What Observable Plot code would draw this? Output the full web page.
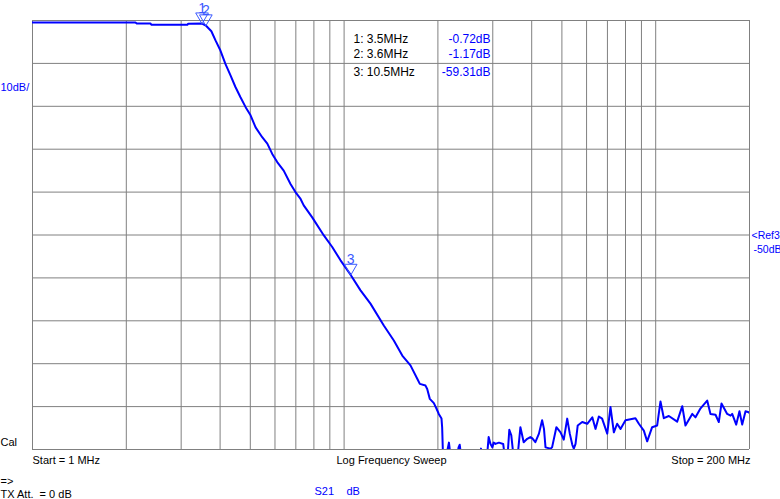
<!DOCTYPE html>
<html><head><meta charset="utf-8">
<script src="https://cdn.jsdelivr.net/npm/d3@7"></script>
<script src="https://cdn.jsdelivr.net/npm/@observablehq/plot@0.6"></script>
<style>
html,body{margin:0;padding:0;background:#fff}
#chart svg{display:block}
</style>
</head><body><div id="chart"></div>
<script>
// ---- data (frequency in MHz, S21 in dB) ----
const freqMHz = [
  1, 2.14, 2.16, 2.39, 2.41, 3.14, 3.16, 3.5, 3.6,
  3.75, 3.87, 4.01, 4.16, 4.32, 4.48, 4.65, 4.83, 5.01, 5.20, 5.46, 5.67, 5.88, 6.10, 6.40,
  6.73, 6.98, 7.25, 7.42, 7.90, 8.61, 9.16, 9.74, 10.5, 11.29, 12.15, 13.41, 14.44, 15.37,
  16.33, 17.17, 17.5, 18.25, 18.48, 18.84, 19.41, 19.80, 20.13, 20.54, 20.64, 20.8,
  21.2, 21.7, 22.0, 23.0, 23.3, 23.5, 23.8, 27.0, 27.5, 28.0, 28.8, 29.1, 29.5, 29.9, 30.2,
  30.6, 31.4, 32.4, 32.7, 33.5, 33.9, 34.4, 34.9, 36.1, 36.8, 37.7, 38.7, 39.6, 40.2, 41.1,
  42.2, 43.2, 43.8, 44.3, 46.0, 46.5, 48.0, 49.5, 50.7, 52.0, 53.0, 54.0, 54.6, 55.3, 56.2,
  58.1, 60.3, 62.6, 64.1, 65.7, 67.3, 69.9, 71.6, 73.4, 75.2, 77.1, 80.0, 86.1, 88.3, 91.6,
  93.9, 97.4, 101.1, 103.6, 106.2, 110.2, 117.2, 121.7, 124.6, 131.0, 134.2, 139.3, 146.3,
  149.9, 155.6, 159.4, 162.6, 169.6, 173.9, 176.0, 181.3, 185.7, 189.5, 194.2, 199.0, 200
];
const s21dB = [
  -0.45, -0.45, -0.7, -0.7, -1.0, -1.0, -0.75, -0.72, -1.17,
  -2.5, -4.7, -7.0, -10.1, -12.8, -15.5, -17.9, -20.2, -22.1, -24.9, -27.2, -28.7, -31.1, -33.0, -35.0,
  -38.1, -40.0, -41.6, -43.1, -45.9, -50.1, -52.8, -55.9, -59.31, -62.9, -66.0, -71.1, -74.6, -78.1,
  -80.4, -83.5, -84.7, -85.1, -85.9, -88.2, -89.2, -90.5, -91.7, -92.8, -94.9, -103,
  -102, -98.4, -102, -102, -99.5, -98.9, -102, -102, -99.8, -102, -101, -97.1, -98.7, -99.5, -98.4,
  -98.7, -98.4, -98.7, -101, -101, -95.4, -96.7, -101, -101, -94.8, -98.3, -97.5, -97.1, -97.4, -98.3,
  -96.3, -93.2, -95.2, -99.5, -99.8, -99.5, -94.8, -96.0, -97.7, -92.8, -96.3, -98.9, -99.8, -98.7, -94.4,
  -93.6, -94.0, -92.5, -95.2, -92.3, -92.8, -96.3, -90.1, -96.0, -94.0, -95.2, -93.2, -92.7, -94.0, -95.6,
  -98.1, -94.8, -94.4, -88.8, -92.7, -92.2, -93.5, -89.9, -94.4, -91.7, -92.5, -90.4, -88.6,
  -91.7, -91.9, -93.6, -89.3, -91.7, -92.1, -91.7, -94.2, -91.1, -94.2, -91.1, -91.3, -91.5
];
const xGridMHz = [1,2,3,4,5,6,7,8,9,10,20,30,40,50,60,70,80,90,100,200];
const yGridDB = [0,-10,-20,-30,-40,-50,-60,-70,-80,-90,-100];
const markerIds = ["1","2","3"];
const markerFreqMHz = [3.5, 3.6, 10.5];
const markerDB = [-0.72, -1.17, -59.31];
const markerFreqLabels = ["3.5MHz", "3.6MHz", "10.5MHz"];
const scaleLabel = "10dB/";
const refLabels = ["<Ref3", "-50dB"];
const startLabel = "Start = 1 MHz";
const sweepLabel = "Log Frequency Sweep";
const stopLabel = "Stop = 200 MHz";
const statusLabels = ["Cal", "=>", "TX Att.  = 0 dB"];
const traceLabels = ["S21", "dB"];

// ---- build ----
const trace = freqMHz.map((f, i) => ({f, db: s21dB[i]}));
const BLUE = "#0000ff";
const MBLUE = "#3c5aff";
const GRID = "#808080";
const FONT = "'Liberation Sans', Arial, sans-serif";

// frame-relative text helper (frame top-left is the anchor)
const ML = 32, MT = 20;
const label = (s, X, Y, opts = {}) => Plot.text([s], {
  frameAnchor: "top-left", dx: X - ML, dy: Y - MT,
  textAnchor: "start", lineAnchor: "middle", fontSize: 11, fill: "black", ...opts
});

const rowY = [39, 54, 72];

const chart = Plot.plot({
  width: 780, height: 499,
  marginLeft: ML, marginRight: 31, marginTop: MT, marginBottom: 50,
  style: {background: "#fff", fontFamily: FONT, overflow: "visible"},
  x: {type: "log", domain: [1, 200], axis: null},
  y: {domain: [-100, 0], axis: null},
  marks: [
    Plot.ruleX(xGridMHz, {stroke: GRID, strokeWidth: 1}),
    Plot.ruleY(yGridDB, {stroke: GRID, strokeWidth: 1}),
    Plot.line(trace, {x: "f", y: "db", stroke: BLUE, strokeWidth: 2, clip: true}),
    // marker triangles and numbers
    Plot.dot(markerIds, {x: (d, i) => markerFreqMHz[i], y: (d, i) => markerDB[i],
      symbol: "triangle", rotate: 180, r: 4.7, dy: -7, stroke: MBLUE, fill: "none", strokeWidth: 1}),
    Plot.text(markerIds, {x: (d, i) => markerFreqMHz[i], y: (d, i) => markerDB[i],
      text: d => d, dy: -15, fontSize: 14, fill: MBLUE}),
    // marker table
    ...markerIds.map((id, i) => label(`${id}: ${markerFreqLabels[i]}`, 353, rowY[i], {fontSize: 12})),
    ...markerIds.map((id, i) => label(`${markerDB[i].toFixed(2)}dB`, 490, rowY[i], {fontSize: 12, fill: BLUE, textAnchor: "end"})),
    // side labels
    label(scaleLabel, 0, 87, {fill: BLUE}),
    label(refLabels[0], 751, 235, {fill: BLUE, fontSize: 10.5}),
    label(refLabels[1], 753, 249, {fill: BLUE, fontSize: 10.5, letterSpacing: "-0.4px"}),
    label(statusLabels[0], 0, 442),
    // bottom labels
    label(startLabel, 32, 460),
    label(sweepLabel, 391, 460, {textAnchor: "middle"}),
    label(stopLabel, 750, 460, {textAnchor: "end"}),
    label(statusLabels[1], 0, 481),
    label(statusLabels[2], 0, 494),
    label(traceLabels[0], 314, 491, {fill: BLUE}),
    label(traceLabels[1], 346, 491, {fill: BLUE})
  ]
});
document.getElementById("chart").append(chart);
</script>
</body></html>
